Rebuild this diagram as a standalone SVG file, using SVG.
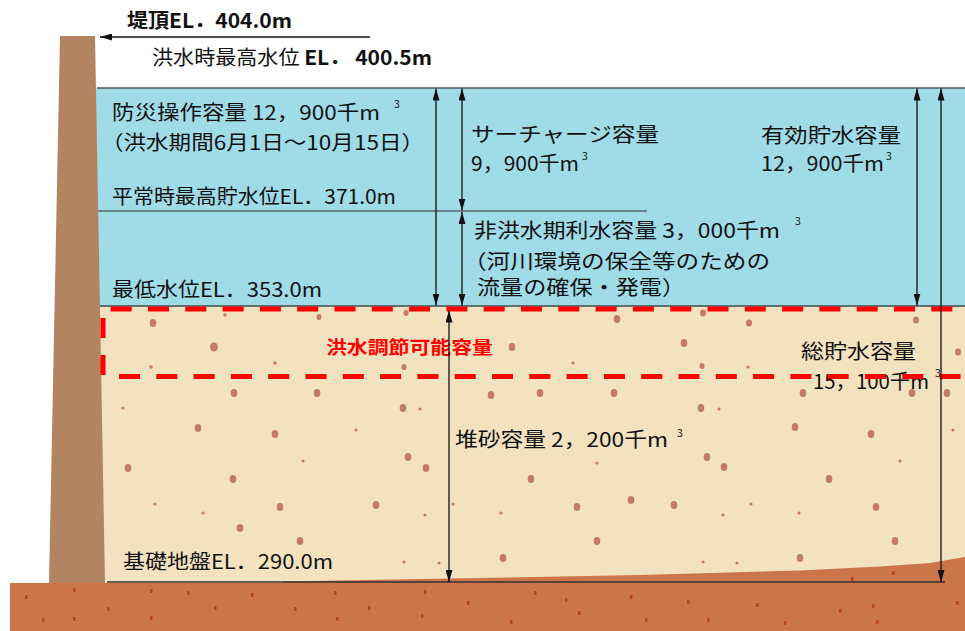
<svg xmlns="http://www.w3.org/2000/svg" width="965" height="631" viewBox="0 0 965 631">
  <style>
    .lbl { font-family: 'Noto Sans CJK JP', 'Noto Sans', sans-serif; font-size: 20px; fill: #111; }
    .bold { font-weight: bold; }
    .sup { font-family: 'Noto Sans CJK JP', 'Noto Sans', sans-serif; font-size: 10.5px; fill: #111; }
    .red { fill: #ff0000; font-weight: bold; font-size: 18px; }
    .dim { stroke: #111; stroke-width: 1.3; fill: none; marker-start: url(#head); marker-end: url(#head); }
    .dim-end { stroke: #111; stroke-width: 1.3; fill: none; marker-end: url(#head); }
    .dash { stroke: #ff0000; stroke-width: 5; fill: none; stroke-dasharray: 21 16.3; }
    .sand { fill: #c57a68; }
    .speck { fill: #b94032; }
  </style>
  <defs>
    <marker id="head" markerUnits="userSpaceOnUse" markerWidth="12" markerHeight="7" viewBox="0 0 12 7" refX="12" refY="3.5" orient="auto-start-reverse">
      <path d="M0,0 L12,3.5 L0,7 Z" fill="#111"/>
    </marker>
  </defs>

  <rect width="965" height="631" fill="#ffffff"/>

  <!-- reservoir cross-section -->
  <g id="reservoir">
    <rect x="90" y="88" width="875" height="218" fill="#a0dbe8"/>
    <rect x="90" y="306" width="875" height="277" fill="#f2e2c0"/>
    <!-- sediment dots -->
    <g class="sand">
      <ellipse cx="153" cy="323" rx="3.3" ry="4"/><ellipse cx="214" cy="347" rx="4" ry="4.5"/>
      <ellipse cx="319" cy="317" rx="2.5" ry="3"/><ellipse cx="406" cy="313" rx="2.5" ry="3"/>
      <ellipse cx="404" cy="367" rx="2.5" ry="3"/><ellipse cx="512" cy="347" rx="3.3" ry="4"/>
      <ellipse cx="617" cy="319" rx="3.3" ry="4"/><ellipse cx="684" cy="343" rx="3.3" ry="4"/>
      <ellipse cx="703" cy="313" rx="3" ry="3.5"/><ellipse cx="702" cy="366" rx="2.5" ry="3"/>
      <ellipse cx="749" cy="323" rx="3" ry="3.5"/><ellipse cx="916" cy="320" rx="3" ry="3.5"/>
      <ellipse cx="958" cy="352" rx="3" ry="3.5"/>
      <ellipse cx="234" cy="393" rx="3.3" ry="4"/><ellipse cx="317" cy="393" rx="3.3" ry="4"/>
      <ellipse cx="491" cy="395" rx="3.3" ry="4"/><ellipse cx="540" cy="393" rx="3.3" ry="4"/>
      <ellipse cx="614" cy="393" rx="3.3" ry="4"/><ellipse cx="803" cy="393" rx="3.3" ry="4"/>
      <ellipse cx="912" cy="393" rx="3.3" ry="4"/><ellipse cx="947" cy="393" rx="3.3" ry="4"/>
      <ellipse cx="701" cy="408" rx="3.3" ry="4"/><ellipse cx="403" cy="408" rx="3.3" ry="4"/>
      <ellipse cx="198" cy="428" rx="3.3" ry="4"/><ellipse cx="275" cy="434" rx="3.3" ry="4"/>
      <ellipse cx="795" cy="427" rx="3.3" ry="4"/><ellipse cx="871" cy="434" rx="3.3" ry="4"/>
      <ellipse cx="408" cy="457" rx="3.3" ry="4"/><ellipse cx="707" cy="457" rx="3.3" ry="4"/>
      <ellipse cx="128" cy="468" rx="3.3" ry="4"/><ellipse cx="426" cy="468" rx="3.3" ry="4"/>
      <ellipse cx="724" cy="467" rx="3.3" ry="4"/><ellipse cx="233" cy="479" rx="3.3" ry="4"/>
      <ellipse cx="531" cy="479" rx="3.3" ry="4"/><ellipse cx="829" cy="479" rx="3.3" ry="4"/>
      <ellipse cx="280" cy="507" rx="3.3" ry="4"/><ellipse cx="376" cy="505" rx="3.3" ry="4"/>
      <ellipse cx="577" cy="507" rx="3.3" ry="4"/><ellipse cx="631" cy="500" rx="3.3" ry="4"/>
      <ellipse cx="674" cy="505" rx="3.3" ry="4"/><ellipse cx="876" cy="507" rx="3.3" ry="4"/>
      <ellipse cx="240" cy="528" rx="3.3" ry="4"/><ellipse cx="300" cy="541" rx="3.3" ry="4"/>
      <ellipse cx="597" cy="541" rx="3.3" ry="4"/><ellipse cx="895" cy="541" rx="3.3" ry="4"/>
      <ellipse cx="503" cy="558" rx="3.3" ry="4"/><ellipse cx="800" cy="558" rx="3.3" ry="4"/>
      <circle cx="225" cy="315" r="1.8"/><circle cx="151" cy="367" r="1.8"/><circle cx="275" cy="363" r="1.8"/>
      <circle cx="573" cy="363" r="1.6"/><circle cx="748" cy="367" r="1.6"/><circle cx="420" cy="409" r="1.6"/>
      <circle cx="123" cy="408" r="1.6"/><circle cx="719" cy="409" r="1.6"/><circle cx="356" cy="430" r="1.6"/>
      <circle cx="953" cy="430" r="1.6"/><circle cx="303" cy="461" r="1.6"/><circle cx="597" cy="463" r="1.6"/>
      <circle cx="900" cy="461" r="1.6"/><circle cx="155" cy="504" r="1.6"/><circle cx="453" cy="504" r="1.6"/>
      <circle cx="751" cy="504" r="1.6"/><circle cx="203" cy="513" r="1.6"/><circle cx="425" cy="515" r="1.6"/>
      <circle cx="501" cy="513" r="1.6"/><circle cx="723" cy="515" r="1.6"/><circle cx="799" cy="513" r="1.6"/>
      <circle cx="404" cy="562" r="1.6"/><circle cx="439" cy="563" r="1.6"/><circle cx="703" cy="562" r="1.6"/>
      <circle cx="737" cy="563" r="1.6"/>
    </g>
    <!-- deposited sediment wedge -->
    <path d="M283,583 L283,581.5 L450,578.5 L640,575 L800,570.5 L880,566.5 L930,563 L965,557 L965,583 Z" fill="#cc744a"/>
    <!-- ground -->
    <rect x="10" y="583" width="955" height="48" fill="#cc744a"/>
    <g class="speck">
      <rect x="25" y="595" width="2.5" height="4"/><rect x="73" y="588" width="2.5" height="4"/>
      <rect x="150" y="589" width="2.5" height="4"/><rect x="187" y="591" width="2.5" height="4"/>
      <rect x="251" y="593" width="2.5" height="4"/><rect x="334" y="591" width="2.5" height="4"/>
      <rect x="424" y="590" width="2.5" height="4"/><rect x="534" y="591" width="2.5" height="4"/>
      <rect x="630" y="595" width="2.5" height="4"/><rect x="687" y="600" width="2.5" height="4"/>
      <rect x="756" y="603" width="2.5" height="4"/><rect x="839" y="609" width="2.5" height="4"/>
      <rect x="872" y="604" width="2.5" height="4"/><rect x="956" y="601" width="2.5" height="4"/>
      <rect x="107" y="607" width="2.5" height="4"/><rect x="214" y="606" width="2.5" height="4"/>
      <rect x="294" y="607" width="2.5" height="4"/><rect x="368" y="606" width="2.5" height="4"/>
      <rect x="467" y="601" width="2.5" height="4"/><rect x="565" y="598" width="2.5" height="4"/>
      <rect x="645" y="618" width="2.5" height="4"/><rect x="707" y="618" width="2.5" height="4"/>
      <rect x="784" y="621" width="2.5" height="4"/><rect x="876" y="620" width="2.5" height="4"/>
      <rect x="42" y="618" width="2.5" height="4"/><rect x="73" y="617" width="2.5" height="4"/>
      <rect x="150" y="616" width="2.5" height="4"/><rect x="336" y="617" width="2.5" height="4"/>
      <rect x="421" y="614" width="2.5" height="4"/><rect x="510" y="620" width="2.5" height="4"/>
      <rect x="578" y="611" width="2.5" height="4"/><rect x="851" y="577" width="2.5" height="4"/>
      <rect x="892" y="571" width="2.5" height="4"/>
    </g>
    <!-- water surface and level lines -->
    <line x1="97" y1="88" x2="965" y2="88" stroke="#4c5c62" stroke-width="1.5"/>
    <line x1="97" y1="211" x2="647" y2="211" stroke="#333" stroke-width="1.2"/>
    <line x1="97" y1="306" x2="965" y2="306" stroke="#3e4a4e" stroke-width="1.5"/>
    <!-- foundation line -->
    <line x1="107" y1="582" x2="945" y2="582" stroke="#333" stroke-width="1.6"/>
  </g>

  <!-- dam body -->
  <g id="dam">
    <polygon points="60,36 95,36 105,583 49,583" fill="#b28462"/>
  </g>

  <!-- level labels -->
  <g id="crest-label">
    <text class="lbl bold" x="127" y="28" font-size="19" textLength="165" lengthAdjust="spacingAndGlyphs">堤頂EL．404.0m</text>
  </g>
  <g id="flood-level-label">
    <text class="lbl" x="152" y="64.5" font-size="19" textLength="280" lengthAdjust="spacingAndGlyphs">洪水時最高水位 <tspan class="bold">EL． 400.5m</tspan></text>
  </g>
  <g id="flood-control-capacity">
    <text class="lbl" x="112" y="120" textLength="268" lengthAdjust="spacingAndGlyphs">防災操作容量 12，900千m</text>
    <text class="sup" x="394" y="108">3</text>
    <text class="lbl" x="101" y="150" textLength="323" lengthAdjust="spacingAndGlyphs">（洪水期間6月1日～10月15日）</text>
  </g>
  <g id="normal-level-label">
    <text class="lbl" x="112" y="203.5" font-size="19.5" textLength="284" lengthAdjust="spacingAndGlyphs">平常時最高貯水位EL．371.0m</text>
  </g>
  <g id="min-level-label">
    <text class="lbl" x="112" y="296.5" textLength="210" lengthAdjust="spacingAndGlyphs">最低水位EL．353.0m</text>
  </g>
  <g id="surcharge-capacity">
    <text class="lbl" x="471" y="142" textLength="188" lengthAdjust="spacingAndGlyphs">サーチャージ容量</text>
    <text class="lbl" x="471" y="171" textLength="108" lengthAdjust="spacingAndGlyphs">9，900千m</text>
    <text class="sup" x="582" y="160">3</text>
  </g>
  <g id="effective-capacity">
    <text class="lbl" x="761" y="142.5" textLength="140" lengthAdjust="spacingAndGlyphs">有効貯水容量</text>
    <text class="lbl" x="761" y="171" textLength="123" lengthAdjust="spacingAndGlyphs">12，900千m</text>
    <text class="sup" x="886" y="160">3</text>
  </g>
  <g id="non-flood-capacity">
    <text class="lbl" x="474" y="238" textLength="306" lengthAdjust="spacingAndGlyphs">非洪水期利水容量 3，000千m</text>
    <text class="sup" x="795" y="225">3</text>
    <text class="lbl" x="463" y="268.5" textLength="307" lengthAdjust="spacingAndGlyphs">（河川環境の保全等のための</text>
    <text class="lbl" x="477" y="295" textLength="208" lengthAdjust="spacingAndGlyphs">流量の確保・発電）</text>
  </g>
  <g id="adjustable-capacity">
    <text class="lbl red" x="326" y="353.5" textLength="167" lengthAdjust="spacingAndGlyphs">洪水調節可能容量</text>
  </g>
  <g id="total-capacity">
    <text class="lbl" x="801" y="358.5" textLength="115" lengthAdjust="spacingAndGlyphs">総貯水容量</text>
    <text class="lbl" x="813" y="389" textLength="116" lengthAdjust="spacingAndGlyphs">15，100千m</text>
    <text class="sup" x="935" y="377">3</text>
  </g>
  <g id="sediment-capacity">
    <text class="lbl" x="455" y="447" textLength="213" lengthAdjust="spacingAndGlyphs">堆砂容量 2，200千m</text>
    <text class="sup" x="677" y="437">3</text>
  </g>
  <g id="foundation-label">
    <text class="lbl" x="123" y="569" textLength="210" lengthAdjust="spacingAndGlyphs">基礎地盤EL．290.0m</text>
  </g>

  <!-- flood control zone outline -->
  <g id="flood-control-zone">
    <line class="dash" x1="110.7" y1="309" x2="965" y2="309"/>
    <line class="dash" x1="119" y1="376.5" x2="965" y2="376.5"/>
    <line class="dash" x1="103" y1="318" x2="103" y2="378" style="stroke-dasharray:20 17"/>
  </g>

  <!-- dimension arrows -->
  <g id="connectors">
    <line class="dim-end" x1="370" y1="37" x2="100" y2="37"/>
    <line class="dim" x1="436" y1="88.5" x2="436" y2="305.5"/>
    <line class="dim" x1="462" y1="88.5" x2="462" y2="210.5"/>
    <line class="dim" x1="462" y1="212" x2="462" y2="305.5"/>
    <line class="dim" x1="449" y1="310.5" x2="449" y2="582"/>
    <line class="dim" x1="917" y1="88.5" x2="917" y2="305.5"/>
    <line class="dim" x1="941" y1="88.5" x2="941" y2="582"/>
  </g>
</svg>
